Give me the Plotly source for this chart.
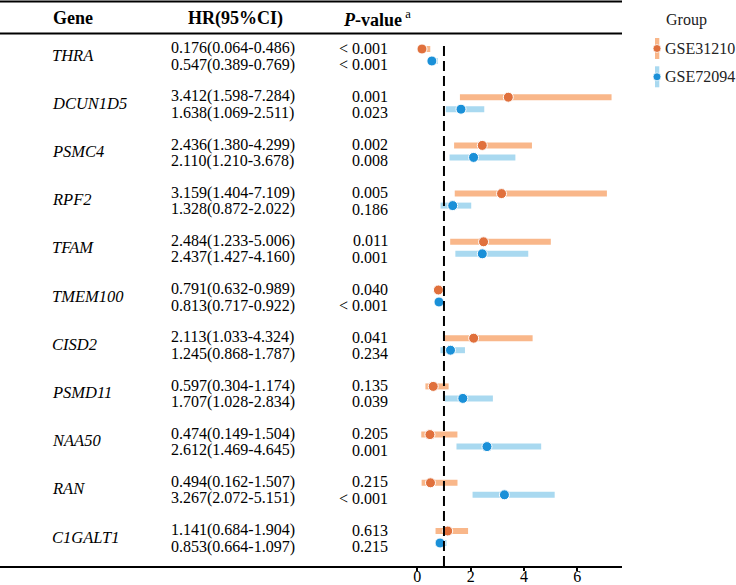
import plotly.graph_objects as go

genes = ["THRA", "DCUN1D5", "PSMC4", "RPF2", "TFAM", "TMEM100", "CISD2",
         "PSMD11", "NAA50", "RAN", "C1GALT1"]
# GSE31210
hr_a = [0.176, 3.412, 2.436, 3.159, 2.484, 0.791, 2.113, 0.597, 0.474, 0.494, 1.141]
lo_a = [0.064, 1.598, 1.380, 1.404, 1.233, 0.632, 1.033, 0.304, 0.149, 0.162, 0.684]
hi_a = [0.486, 7.284, 4.299, 7.109, 5.006, 0.989, 4.324, 1.174, 1.504, 1.507, 1.904]
p_a = ["< 0.001", "0.001", "0.002", "0.005", "0.011", "0.040", "0.041", "0.135", "0.205", "0.215", "0.613"]
# GSE72094
hr_b = [0.547, 1.638, 2.110, 1.328, 2.437, 0.813, 1.245, 1.707, 2.612, 3.267, 0.853]
lo_b = [0.389, 1.069, 1.210, 0.872, 1.427, 0.717, 0.868, 1.028, 1.469, 2.072, 0.664]
hi_b = [0.769, 2.511, 3.678, 2.022, 4.160, 0.922, 1.787, 2.834, 4.645, 5.151, 1.097]
p_b = ["< 0.001", "0.023", "0.008", "0.186", "0.001", "< 0.001", "0.234", "0.039", "0.001", "< 0.001", "0.215"]
groups = ["GSE31210", "GSE72094"]
tick_vals = [0, 2, 4, 6]

W, H = 736, 585
FONT = "Liberation Serif, Times New Roman, serif"
DOT = ["#E0703C", "#1A90D8"]
BAR = ["#F9B78A", "#A9D9F0"]

def px(x):
    return x / W

def py(y):
    return 1 - y / H

# axis geometry
x0_pix, unit = 417.3, 26.67
xr = [-x0_pix / unit, (622 - x0_pix) / unit]
gc0, gstep = 55.0, 48.2
yr = [(566 - gc0) / gstep, (34 - gc0) / gstep]
off = 6 / gstep
toff = 8.2 / gstep

idx = list(range(len(genes)))
fig = go.Figure()
series = [(hr_a, lo_a, hi_a, -off), (hr_b, lo_b, hi_b, off)]
for k, (hr, lo, hi, o) in enumerate(series):
    ys = [i + o for i in idx]
    fig.add_trace(go.Scatter(
        x=hr, y=ys, mode="markers",
        marker=dict(size=2, color=BAR[k]),
        error_x=dict(type="data", symmetric=False,
                     array=[h - r for h, r in zip(hi, hr)],
                     arrayminus=[r - l for r, l in zip(hr, lo)],
                     color=BAR[k], thickness=6, width=0),
        showlegend=False, hoverinfo="skip"))
for k, (hr, lo, hi, o) in enumerate(series):
    ys = [i + o for i in idx]
    fig.add_trace(go.Scatter(
        x=hr, y=ys, mode="markers", name=groups[k],
        marker=dict(size=10, color=DOT[k], line=dict(color="white", width=1)),
        showlegend=False))

ann = []
for i, g in enumerate(genes):
    ann.append(dict(x=px(49.5), xref="paper", y=i, yref="y", text=f"<i>{g}</i>",
                    xanchor="left", yanchor="middle", showarrow=False,
                    font=dict(size=16.5, family=FONT, color="black")))
    for k, (hr, lo, hi, pv, s) in enumerate([(hr_a, lo_a, hi_a, p_a, -1), (hr_b, lo_b, hi_b, p_b, 1)]):
        yy = i + s * toff + 1.3 / gstep
        ann.append(dict(x=px(169.3), xref="paper", y=yy, yref="y",
                        text=f"{hr[i]:.3f}({lo[i]:.3f}-{hi[i]:.3f})",
                        xanchor="left", yanchor="middle", showarrow=False,
                        font=dict(size=16, family=FONT, color="black")))
        ann.append(dict(x=px(390), xref="paper", y=yy, yref="y", text=pv[i],
                        xanchor="right", yanchor="middle", showarrow=False,
                        font=dict(size=16, family=FONT, color="black")))

hdr_y = py(18)
ann.append(dict(x=px(73), xref="paper", y=hdr_y, yref="paper", text="<b>Gene</b>",
                xanchor="center", yanchor="middle", showarrow=False,
                font=dict(size=18, family=FONT, color="black")))
ann.append(dict(x=px(235), xref="paper", y=hdr_y, yref="paper", text="<b>HR(95%CI)</b>",
                xanchor="center", yanchor="middle", showarrow=False,
                font=dict(size=18, family=FONT, color="black")))
ann.append(dict(x=px(341), xref="paper", y=hdr_y, yref="paper",
                text="<b><i>P</i>-value</b><sup> a</sup>",
                xanchor="left", yanchor="middle", showarrow=False,
                font=dict(size=18, family=FONT, color="black")))

# legend (manual)
ann.append(dict(x=px(664), xref="paper", y=py(20), yref="paper", text="Group",
                xanchor="left", yanchor="middle", showarrow=False,
                font=dict(size=16, family=FONT, color="#222")))
shapes = []
for k, g in enumerate(groups):
    cy = 48.5 + 28.3 * k
    ann.append(dict(x=px(662.5), xref="paper", y=py(cy), yref="paper", text=g,
                    xanchor="left", yanchor="middle", showarrow=False,
                    font=dict(size=16, family=FONT, color="#222")))
    shapes.append(dict(type="rect", xref="paper", yref="paper",
                       x0=px(655), x1=px(659.3), y0=py(cy - 10.5), y1=py(cy + 10.5),
                       fillcolor=BAR[k], line=dict(width=0)))
    shapes.append(dict(type="circle", xref="paper", yref="paper",
                       x0=px(653), x1=px(661), y0=py(cy - 4), y1=py(cy + 4),
                       fillcolor=DOT[k], line=dict(width=0.8, color="white")))

# table rules
for yy in [1.5, 33.5]:
    shapes.append(dict(type="line", xref="paper", yref="paper",
                       x0=0, x1=px(622), y0=py(yy), y1=py(yy),
                       line=dict(color="black", width=2)))
# reference line at HR = 1
shapes.append(dict(type="line", xref="x", yref="paper", x0=1, x1=1,
                   y0=py(566), y1=py(43), line=dict(color="black", width=2, dash="10px,5px")))

fig.update_layout(
    width=W, height=H, margin=dict(l=0, r=0, t=0, b=0, autoexpand=False),
    paper_bgcolor="white", plot_bgcolor="white",
    annotations=ann, shapes=shapes, showlegend=False,
    xaxis=dict(domain=[0, 622 / W], range=xr, tickvals=tick_vals, automargin=False,
               ticks="outside", ticklen=3, tickwidth=1.5, tickcolor="black",
               ticklabelstandoff=-8,
               showline=True, linewidth=2, linecolor="black",
               showgrid=False, zeroline=False,
               tickfont=dict(size=16, family=FONT, color="black")),
    yaxis=dict(domain=[py(566), py(34)], range=yr, showticklabels=False, automargin=False,
               showgrid=False, zeroline=False, ticks=""),
)
fig.write_html("out.html", config={"displayModeBar": False},
               post_script="document.body.style.margin='0';document.body.style.overflow='hidden';")
